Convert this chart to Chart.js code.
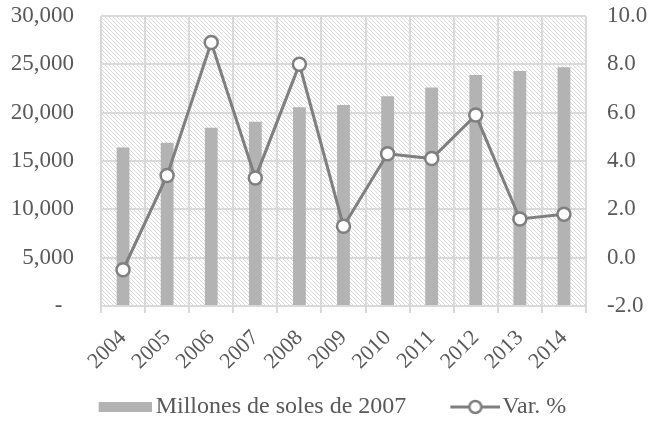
<!DOCTYPE html>
<html>
<head>
<meta charset="utf-8">
<script src="https://cdn.jsdelivr.net/npm/chart.js@4.4.1/dist/chart.umd.min.js"></script>
<style>
  html, body { margin: 0; padding: 0; background: #ffffff; }
  #wrap { width: 650px; height: 427px; position: relative; }
</style>
</head>
<body>
<div id="wrap"><canvas id="c" width="650" height="427"></canvas></div>
<script>
const categories = ['2004','2005','2006','2007','2008','2009','2010','2011','2012','2013','2014'];
const millones = [16400, 16900, 18450, 19050, 20550, 20800, 21700, 22600, 23900, 24300, 24700];
const variacion = [-0.5, 3.4, 8.9, 3.3, 8.0, 1.3, 4.3, 4.1, 5.9, 1.6, 1.8];
const seriesNames = ['Millones de soles de 2007', 'Var. %'];
const leftTicks = [0, 5000, 10000, 15000, 20000, 25000, 30000];
const rightTicks = [-2, 0, 2, 4, 6, 8, 10];

const FONT = "'Liberation Serif', 'Times New Roman', serif";
const TXT = '#595959';
const GRID = '#d9d9d9';
const BAR = '#b3b3b3';
const LINE = '#7f7f7f';

// hatch tile
const tile = document.createElement('canvas');
tile.width = 8; tile.height = 8;
(function(){
  const t = tile.getContext('2d');
  t.fillStyle = '#ffffff'; t.fillRect(0,0,8,8);
  t.fillStyle = '#d9d9d9';
  for (let i = 0; i < 8; i++) {
    t.fillRect(i, i, 1, 1);
    t.fillRect((i + 4) % 8, i, 1, 1);
  }
})();

// legend icons (visible part at the right of a wider transparent canvas)
const LEG_PAD = 24;
const ICON_W = 60;
const barIcon = document.createElement('canvas');
barIcon.width = Math.round(2 * (ICON_W + 8 - ICON_W / 2)); barIcon.height = 10;
(function(){
  const g = barIcon.getContext('2d');
  g.fillStyle = BAR; g.fillRect(barIcon.width - 53, 0, 53, 10);
})();
const lineIcon = document.createElement('canvas');
lineIcon.width = Math.round(2 * (ICON_W + 10 - ICON_W / 2)); lineIcon.height = 18;
(function(){
  const g = lineIcon.getContext('2d');
  const W = lineIcon.width, x0 = W - 50;
  g.strokeStyle = LINE; g.lineWidth = 3;
  g.beginPath(); g.moveTo(x0, 9); g.lineTo(W, 9); g.stroke();
  g.beginPath(); g.arc(x0 + 25, 9, 6, 0, Math.PI * 2);
  g.fillStyle = '#ffffff'; g.fill();
  g.lineWidth = 2.5; g.stroke();
})();

const hatchPlugin = {
  id: 'hatch',
  beforeDraw(chart) {
    const {ctx, chartArea: a} = chart;
    ctx.save();
    ctx.fillStyle = ctx.createPattern(tile, 'repeat');
    ctx.fillRect(a.left, a.top, a.right - a.left, a.bottom - a.top);
    ctx.restore();
  }
};

new Chart(document.getElementById('c'), {
  type: 'bar',
  data: {
    labels: categories,
    datasets: [
      {
        type: 'bar',
        label: seriesNames[0],
        data: millones,
        backgroundColor: BAR,
        yAxisID: 'y',
        barPercentage: 0.29,
        categoryPercentage: 1.0,
        order: 2
      },
      {
        type: 'line',
        label: seriesNames[1],
        data: variacion,
        borderColor: LINE,
        borderWidth: 3,
        pointRadius: 6.5,
        pointBorderWidth: 2.5,
        pointBackgroundColor: '#ffffff',
        pointBorderColor: LINE,
        tension: 0,
        yAxisID: 'y1',
        order: 1
      }
    ]
  },
  options: {
    responsive: false,
    animation: false,
    devicePixelRatio: 1,
    layout: { padding: { top: 0, left: 0, right: 0, bottom: -2 } },
    plugins: {
      tooltip: { enabled: false },
      legend: {
        position: 'bottom',
        labels: {
          usePointStyle: true,
          pointStyleWidth: ICON_W,
          padding: LEG_PAD,
          color: TXT,
          font: { family: FONT, size: 24 },
          generateLabels() {
            return [
              { text: seriesNames[0], pointStyle: barIcon, fillStyle: BAR, strokeStyle: BAR, lineWidth: 0, hidden: false, datasetIndex: 0, fontColor: TXT },
              { text: seriesNames[1], pointStyle: lineIcon, fillStyle: '#fff', strokeStyle: LINE, lineWidth: 0, hidden: false, datasetIndex: 1, fontColor: TXT }
            ];
          }
        }
      }
    },
    scales: {
      x: {
        offset: true,
        afterFit(s) { s.height = 65; },
        grid: { offset: true, color: GRID, lineWidth: 2, drawTicks: true, tickLength: 7 },
        border: { display: false },
        ticks: { color: TXT, font: { family: FONT, size: 22 }, maxRotation: 45, minRotation: 45, padding: 12, autoSkip: false }
      },
      y: {
        position: 'left',
        min: 0, max: 30000,
        afterBuildTicks(s) { s.ticks = leftTicks.map(v => ({ value: v })); },
        afterFit(s) { s.width = 101; s.paddingTop = 16; },
        grid: { color: GRID, lineWidth: 2, drawTicks: false },
        border: { display: false },
        ticks: {
          color: TXT, font: { family: FONT, size: 23 }, padding: 27,
          callback: v => v === 0 ? '-  ' : v.toLocaleString('en-US')
        }
      },
      y1: {
        position: 'right',
        min: -2, max: 10,
        afterBuildTicks(s) { s.ticks = rightTicks.map(v => ({ value: v })); },
        afterFit(s) { s.width = 64; s.paddingTop = 16; },
        grid: { display: false, drawTicks: false },
        border: { display: false },
        ticks: {
          color: TXT, font: { family: FONT, size: 23 }, padding: 21,
          callback: v => v.toFixed(1)
        }
      }
    }
  },
  plugins: [hatchPlugin]
});
</script>
</body>
</html>
